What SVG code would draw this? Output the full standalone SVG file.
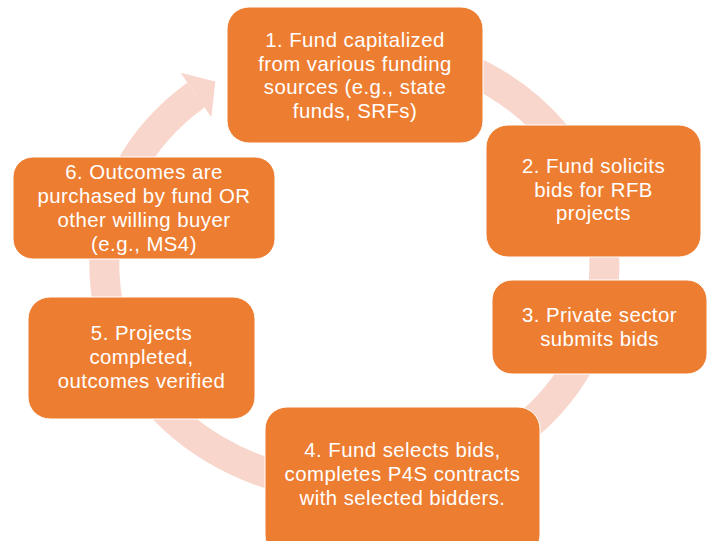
<svg xmlns="http://www.w3.org/2000/svg" width="708" height="541" viewBox="0 0 708 541">
<style>
.box{fill:#ED7D31;stroke:#ffffff;stroke-width:1}
.t{font-family:"Liberation Sans",Arial,sans-serif;font-size:20.4px;letter-spacing:0.45px;fill:#ffffff;text-anchor:middle}
.ring{fill:none;stroke:#F8D6CC;stroke-width:30}
.head{fill:#F8D6CC}
</style>
<rect width="708" height="541" fill="#ffffff"/>
<g id="connectors">
<path class="ring" d="M354.5 45 A250 221 0 1 1 196 95"/>
<polygon class="head" points="180.6,72.8 215.3,81.6 211.4,117.2"/>
</g>
<g id="node1">
<rect class="box" x="227" y="7" width="256" height="136" rx="22"/>
<text class="t" x="355" y="47">1. Fund capitalized</text>
<text class="t" x="355" y="70.5">from various funding</text>
<text class="t" x="355" y="94">sources (e.g., state</text>
<text class="t" x="355" y="117.5">funds, SRFs)</text>
</g>
<g id="node2">
<rect class="box" x="486" y="125" width="215" height="132" rx="22"/>
<text class="t" x="593.5" y="173">2. Fund solicits</text>
<text class="t" x="593.5" y="196.5">bids for RFB</text>
<text class="t" x="593.5" y="220">projects</text>
</g>
<g id="node3">
<rect class="box" x="492" y="280" width="215" height="94" rx="20"/>
<text class="t" x="599.5" y="322">3. Private sector</text>
<text class="t" x="599.5" y="345.5">submits bids</text>
</g>
<g id="node4">
<rect class="box" x="265" y="407" width="275" height="150" rx="22"/>
<text class="t" x="402.5" y="457">4. Fund selects bids,</text>
<text class="t" x="402.5" y="481">completes P4S contracts</text>
<text class="t" x="402.5" y="505">with selected bidders.</text>
</g>
<g id="node5">
<rect class="box" x="28" y="297" width="227" height="122" rx="22"/>
<text class="t" x="141.5" y="340">5. Projects</text>
<text class="t" x="141.5" y="364">completed,</text>
<text class="t" x="141.5" y="388">outcomes verified</text>
</g>
<g id="node6">
<rect class="box" x="13" y="157" width="262" height="102" rx="20"/>
<text class="t" x="144" y="179">6. Outcomes are</text>
<text class="t" x="144" y="203">purchased by fund OR</text>
<text class="t" x="144" y="227">other willing buyer</text>
<text class="t" x="144" y="251">(e.g., MS4)</text>
</g>
</svg>
